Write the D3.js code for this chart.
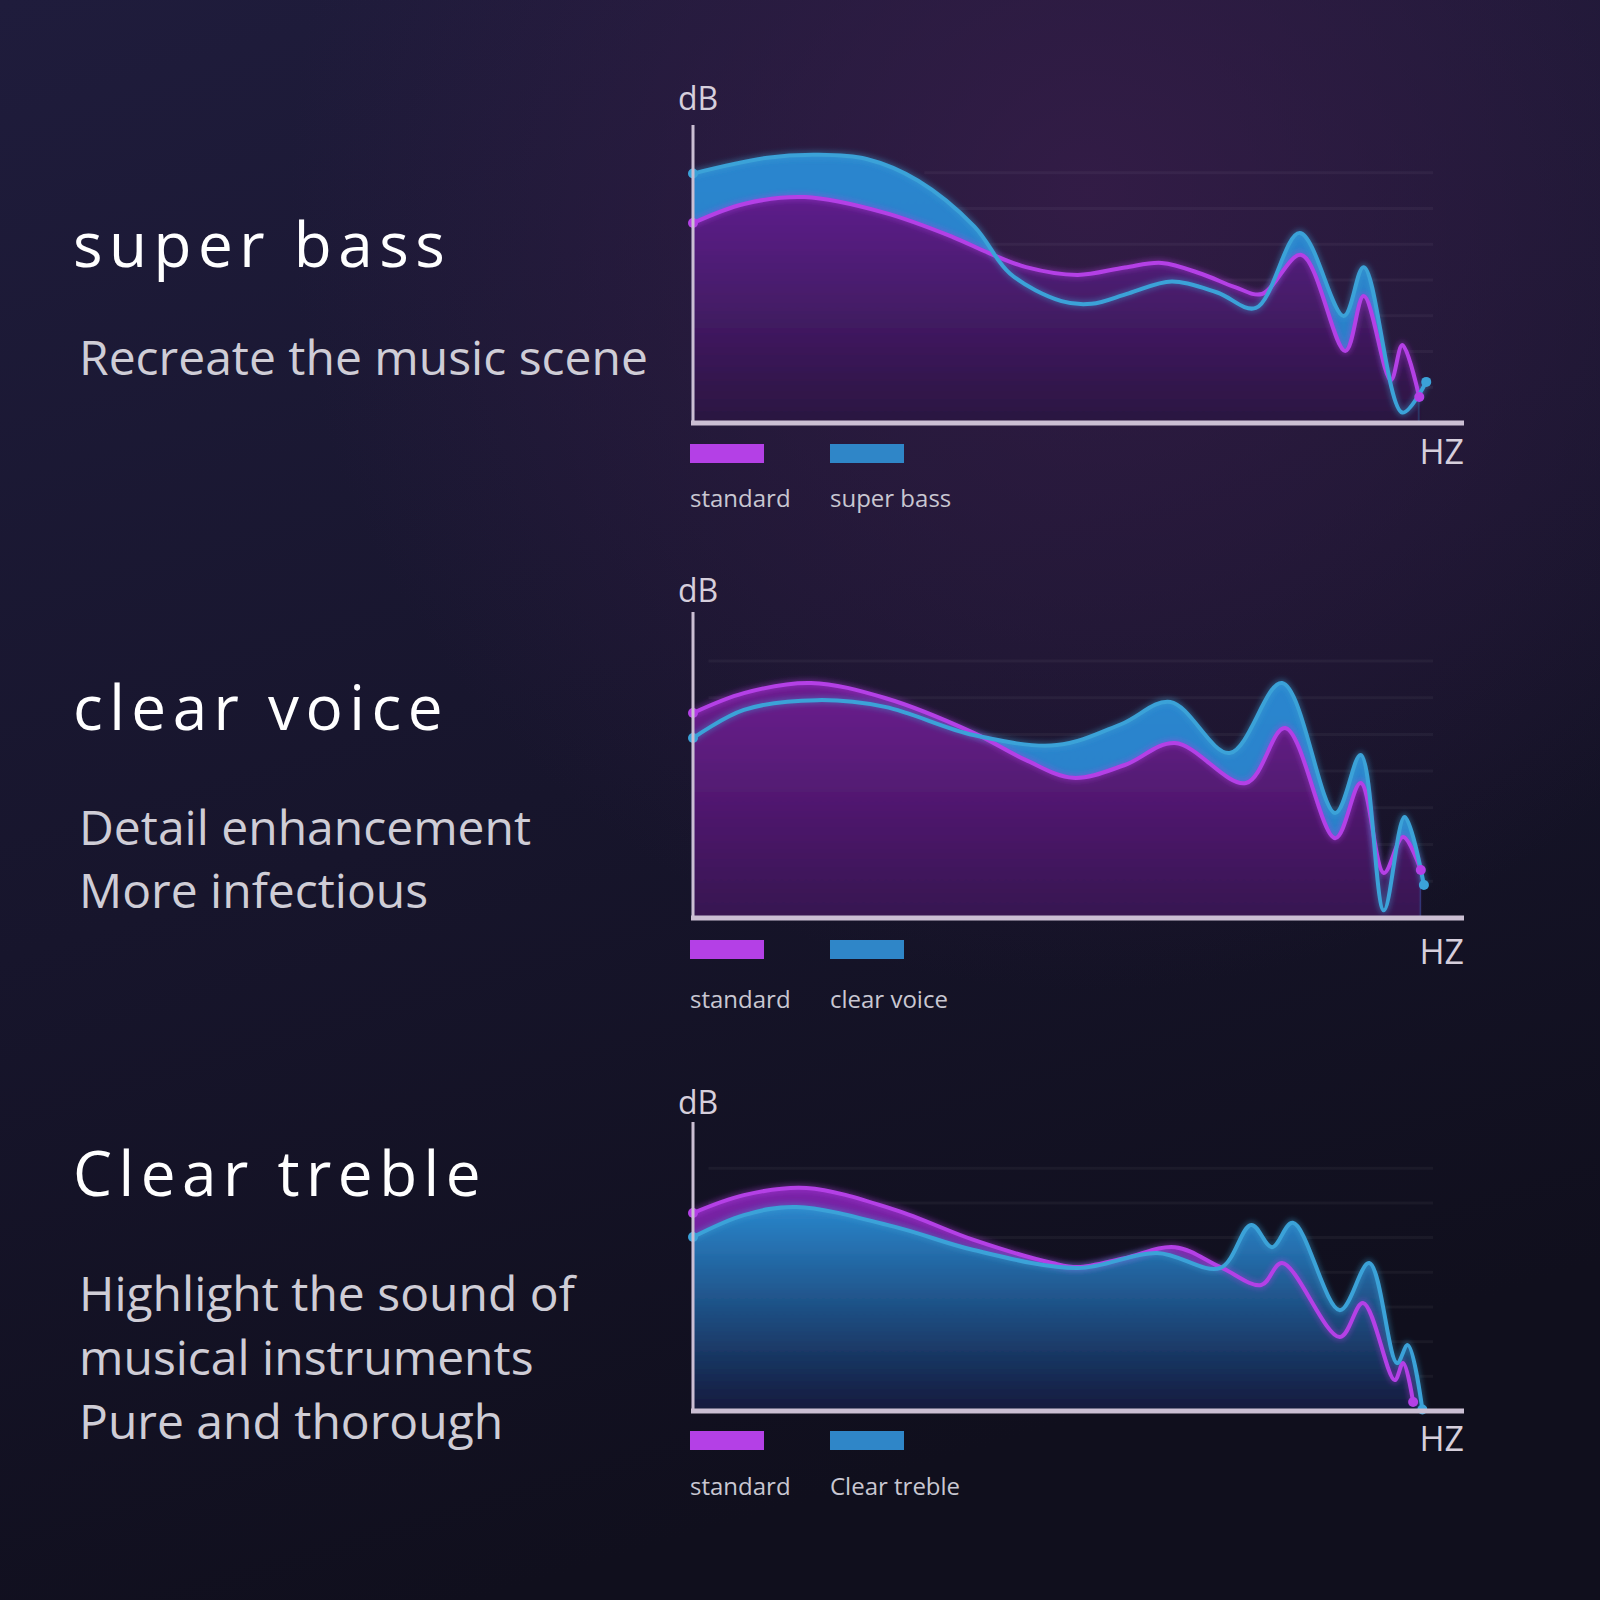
<!DOCTYPE html>
<html>
<head>
<meta charset="utf-8">
<script src="https://cdn.jsdelivr.net/npm/d3@7"></script>
<style>
  html, body { margin: 0; padding: 0; background: #14132a; }
  svg { display: block; }
</style>
</head>
<body>
<svg id="chart" width="1600" height="1600"></svg>
<script>
// ---------- DATA ----------
const panelTitles = ["super bass", "clear voice", "Clear treble"];
const panelSubtitles = [
  ["Recreate the music scene"],
  ["Detail enhancement", "More infectious"],
  ["Highlight the sound of", "musical instruments", "Pure and thorough"]
];
const legendLabels = [["standard", "super bass"], ["standard", "clear voice"], ["standard", "Clear treble"]];
const axisLabels = ["dB", "HZ"];
const gridValues = [84, 72, 60, 48, 36, 24, 12];

// frequency position (0-100), level (0-100)
const bassStandard = [[0,67.1],[6.6,73.5],[14.5,75.8],[24.9,70.5],[33.7,62.4],[38.4,57.0],[43.2,52.3],[49.9,49.7],[56,52.2],[60.8,53.7],[66,50.0],[70.3,45.6],[73.8,43.3],[78.9,56.4],[84.6,24.2],[87.0,42.6],[90.5,14.4],[92.0,26.2],[94.2,8.7]];
const bassSuper = [[0,83.7],[9.4,88.9],[16,90.0],[22.5,88.6],[29.2,81.3],[36.5,65.9],[41.1,50.2],[47.8,40.9],[51.7,40.0],[56.5,43.5],[62.1,47.5],[68,43.8],[73.0,38.6],[78.7,63.8],[84.4,35.9],[87.0,52.3],[92.0,3.5],[95.1,13.8]];

const voiceStandard = [[0,67.0],[6.6,73.5],[15.3,76.8],[24.9,71.9],[36.4,60.5],[43.2,51.6],[49.3,45.8],[56.0,50.0],[62.5,57.2],[71.7,44.1],[76.8,62.1],[83.3,26.1],[86.6,44.1],[89.6,14.7],[92.1,26.5],[94.4,15.7]];
const voiceClear = [[0,58.8],[6.6,68.0],[16.1,71.2],[24.9,69.0],[36.4,59.8],[47.2,56.5],[55.6,63.4],[61.9,70.6],[69.6,53.9],[76.4,76.8],[83.3,34.3],[86.6,53.3],[89.6,2.5],[92.3,33.0],[94.8,10.8]];

const trebleStandard = [[0,68.5],[6.6,74.7],[14.7,77.2],[26.2,69.6],[36.4,59.2],[46.6,51.2],[49.9,49.8],[56.0,52.9],[62.5,56.7],[68.4,49.8],[73.7,43.6],[76.4,51.2],[83.9,25.6],[86.9,37.4],[91.0,10.7],[92.1,16.6],[93.4,3.1]];
const trebleClear = [[0,60.2],[6.6,67.8],[13.4,70.6],[26.2,63.7],[36.4,55.7],[49.9,49.5],[60.2,54.7],[68.4,49.5],[72.4,64.4],[75.1,56.7],[77.8,65.1],[83.9,34.9],[87.7,51.2],[91.3,16.6],[92.7,22.8],[94.6,0.5]];

// ---------- LAYOUT ----------
const panels = [
  { std: bassStandard, alt: bassSuper, top: 125, bottom: 423, dbY: 110, hzY: 464, legY: 444, legTextY: 507,
    titleY: 267, subY: [375], altOnTop: false, gridFrom: 30 },
  { std: voiceStandard, alt: voiceClear, top: 612, bottom: 918, dbY: 602, hzY: 964, legY: 940, legTextY: 1008,
    titleY: 730, subY: [845, 908], altOnTop: false, gridFrom: 2 },
  { std: trebleStandard, alt: trebleClear, top: 1122, bottom: 1411, dbY: 1114, hzY: 1451, legY: 1431, legTextY: 1495,
    titleY: 1196, subY: [1311, 1375, 1439], altOnTop: true, gridFrom: 2 }
];
const xLeft = 693, xRight = 1464;

const svg = d3.select("#chart");
const defs = svg.append("defs");

// background
const bg = defs.append("linearGradient").attr("id", "bg").attr("x1", 0).attr("y1", 0).attr("x2", 0.3).attr("y2", 1);
bg.append("stop").attr("offset", "0%").attr("stop-color", "#1f1c3c");
bg.append("stop").attr("offset", "55%").attr("stop-color", "#17152c");
bg.append("stop").attr("offset", "100%").attr("stop-color", "#100f1d");
svg.append("rect").attr("width", 1600).attr("height", 1600).attr("fill", "url(#bg)");
const glow = defs.append("radialGradient").attr("id", "glow").attr("cx", 0.68).attr("cy", 0.12).attr("r", 0.5);
glow.append("stop").attr("offset", "0%").attr("stop-color", "#3a1d4c").attr("stop-opacity", 0.75);
glow.append("stop").attr("offset", "100%").attr("stop-color", "#3a1d4c").attr("stop-opacity", 0);
svg.append("rect").attr("width", 1600).attr("height", 1600).attr("fill", "url(#glow)");

function grad(id, c1, c2) {
  const g = defs.append("linearGradient").attr("id", id).attr("x1", 0).attr("y1", 0).attr("x2", 0).attr("y2", 1);
  g.append("stop").attr("offset", "0%").attr("stop-color", c1);
  g.append("stop").attr("offset", "100%").attr("stop-color", c2);
}
grad("purpleFill", "#5e1f8c", "#2a1640");
grad("purpleFill2", "#6c1d90", "#361650");
grad("blueFill", "#2c86cf", "#2a7fc6");
grad("blueFill3", "#2a86cc", "#13193c");
grad("purpleBand3", "#7a24a8", "#5a1a80");

const blurF = defs.append("filter").attr("id", "soft").attr("x", "-5%").attr("y", "-5%").attr("width", "110%").attr("height", "110%");
blurF.append("feGaussianBlur").attr("stdDeviation", 1.2);
const lineGlow = defs.append("filter").attr("id", "lineGlow").attr("x", "-5%").attr("y", "-10%").attr("width", "110%").attr("height", "120%");
lineGlow.append("feGaussianBlur").attr("stdDeviation", 2.5);

const fontSans = "'Open Sans', 'Noto Sans', sans-serif";
const magenta = "#b440e6", blue = "#3ba2d8";

panels.forEach((p, i) => {
  const x = d3.scaleLinear().domain([0, 100]).range([xLeft, xRight]);
  const y = d3.scaleLinear().domain([0, 100]).range([p.bottom, p.top]);
  const g = svg.append("g");

  // grid lines
  g.selectAll("line.grid").data(gridValues).join("line")
    .attr("x1", x(p.gridFrom)).attr("x2", x(96)).attr("y1", d => y(d)).attr("y2", d => y(d))
    .attr("stroke", "#ffffff").attr("stroke-opacity", 0.045).attr("stroke-width", 3);

  const curve = d3.curveCatmullRom.alpha(0.5);
  const area = d3.area().x(d => x(d[0])).y0(y(0)).y1(d => y(d[1])).curve(curve);
  const line = d3.line().x(d => x(d[0])).y(d => y(d[1])).curve(curve);

  const stdFill = i === 0 ? "url(#purpleFill)" : (i === 1 ? "url(#purpleFill2)" : "url(#purpleBand3)");
  const altFill = i === 2 ? "url(#blueFill3)" : "url(#blueFill)";

  // clip the lower fill to the extent of the upper fill so no sliver shows at the end
  const clipId = "clip" + i;
  const lastStd = p.std[p.std.length - 1][0];
  defs.append("clipPath").attr("id", clipId).append("rect")
    .attr("x", xLeft - 5).attr("y", p.top - 20).attr("width", x(lastStd) - xLeft + 5).attr("height", p.bottom - p.top + 20);

  if (!p.altOnTop) {
    g.append("path").datum(p.alt).attr("d", area).attr("fill", altFill).attr("filter", "url(#soft)").attr("clip-path", `url(#${clipId})`);
    g.append("path").datum(p.std).attr("d", area).attr("fill", stdFill).attr("filter", "url(#soft)");
  } else {
    g.append("path").datum(p.std).attr("d", area).attr("fill", stdFill).attr("filter", "url(#soft)");
    g.append("path").datum(p.alt).attr("d", area).attr("fill", altFill).attr("filter", "url(#soft)");
  }

  // lines with glow
  const series = [[p.std, magenta], [p.alt, blue]];
  series.forEach(([data, col]) => {
    g.append("path").datum(data).attr("d", line).attr("fill", "none").attr("stroke", col)
      .attr("stroke-width", 8).attr("stroke-opacity", 0.35).attr("filter", "url(#lineGlow)");
  });
  series.forEach(([data, col]) => {
    g.append("path").datum(data).attr("d", line).attr("fill", "none").attr("stroke", col)
      .attr("stroke-width", 4).attr("stroke-linejoin", "round");
  });
  // end dots
  series.forEach(([data, col]) => {
    [data[0], data[data.length - 1]].forEach(d => {
      g.append("circle").attr("cx", x(d[0])).attr("cy", y(d[1])).attr("r", 5).attr("fill", col);
    });
  });

  // axes
  g.append("line").attr("x1", xLeft).attr("x2", xLeft).attr("y1", p.top).attr("y2", p.bottom)
    .attr("stroke", "#cbbfd3").attr("stroke-width", 3);
  g.append("line").attr("x1", xLeft - 2).attr("x2", xRight).attr("y1", p.bottom).attr("y2", p.bottom)
    .attr("stroke", "#cbbfd3").attr("stroke-width", 5);

  g.append("text").attr("x", 678).attr("y", p.dbY).text(axisLabels[0])
    .attr("font-family", fontSans).attr("font-size", 32).attr("fill", "#d6cfdc");
  g.append("text").attr("x", xRight).attr("y", p.hzY).attr("text-anchor", "end").text(axisLabels[1])
    .attr("font-family", fontSans).attr("font-size", 34).attr("fill", "#d6cfdc");

  // legend
  const legX = [690, 830];
  [magenta, "#2f86c8"].forEach((c, k) => {
    g.append("rect").attr("x", legX[k]).attr("y", p.legY).attr("width", 74).attr("height", 19).attr("fill", c);
    g.append("text").attr("x", legX[k]).attr("y", p.legTextY).text(legendLabels[i][k])
      .attr("font-family", fontSans).attr("font-size", 24).attr("fill", "#c9c7d2");
  });

  // left texts
  svg.append("text").attr("x", 73).attr("y", p.titleY).text(panelTitles[i])
    .attr("font-family", fontSans).attr("font-size", 62).attr("letter-spacing", 6.5).attr("fill", "#ffffff");
  panelSubtitles[i].forEach((s, k) => {
    svg.append("text").attr("x", 79).attr("y", p.subY[k]).text(s)
      .attr("font-family", fontSans).attr("font-size", 48).attr("fill", "#cfcdd6");
  });
});
</script>
</body>
</html>
